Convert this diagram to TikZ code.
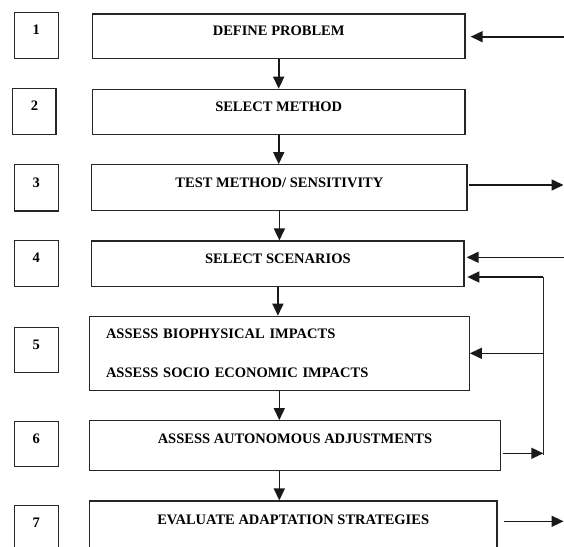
\documentclass[tikz,border=0pt]{standalone}
\usepackage{fontspec}
\setmainfont{Liberation Serif}
\usetikzlibrary{arrows.meta,positioning}

\begin{document}
\begin{tikzpicture}[x=1pt, y=-1pt,
  stepbox/.style={draw=black!85, line width=1.2pt,
                  font=\fontsize{14.5}{17.4}\selectfont\bfseries},
  lift/.style={text height=9.8pt, text depth=11pt},
  numbox/.style={stepbox, lift, minimum width=44pt, minimum height=45.5pt},
  mainbox/.style={stepbox, lift, minimum height=45pt},
  flow/.style={draw=black!90, line width=1.6pt,
               -{Triangle[length=12pt,width=11pt]}},
  wire/.style={draw=black!85, line width=1.2pt}
]
\useasboundingbox (0,0) rectangle (564,546);
\clip (0,0) rectangle (564,546);

\node[numbox] (n1) at (36.3,35.5) {1};
\node[numbox, minimum width=43.3pt, minimum height=46pt] (n2) at (34.4,111.3) {2};
\node[numbox, minimum height=46.7pt] (n3) at (36.3,187.7) {3};
\node[numbox] (n4) at (36.3,263.5) {4};
\node[numbox, minimum height=45pt] (n5) at (36.3,349.8) {5};
\node[numbox, minimum height=45pt] (n6) at (36.3,443.8) {6};
\node[numbox] (n7) at (36.3,528.3) {7};

\node[mainbox, minimum width=372.7pt, minimum height=44.3pt] (define) at (278.7,36.2)
  {DEFINE PROBLEM};
\node[mainbox, minimum width=372.7pt] (method) at (278.7,111.8)
  {SELECT METHOD};
\node[mainbox, minimum width=375.3pt, minimum height=46pt] (test) at (279.4,187.7)
  {TEST METHOD/ SENSITIVITY};
\node[mainbox, minimum width=372.3pt, minimum height=45.3pt] (scen) at (277.9,263.7)
  {SELECT SCENARIOS};
\node[stepbox, minimum width=380pt, minimum height=74pt, text width=346.6pt,
      inner xsep=16.7pt, align=left] (impact) at (279.3,353.3)
  {ASSESS BIOPHYSICAL IMPACTS\\[21pt]ASSESS SOCIO ECONOMIC IMPACTS};
\node[mainbox, minimum width=411.4pt, minimum height=50pt, text depth=13.6pt]
  (adjust) at (295,445.7) {ASSESS AUTONOMOUS ADJUSTMENTS};
\node[mainbox, minimum width=407.7pt, minimum height=50pt, text depth=13.6pt]
  (evaluate) at (293.2,526) {EVALUATE ADAPTATION STRATEGIES};

\draw[flow] (define.south) -- (define.south |- method.north);
\draw[flow] (method.south) -- (method.south |- test.north);
\draw[flow] (test.south) -- (test.south |- scen.north);
\draw[flow] (scen.south) -- (scen.south |- impact.north);
\draw[flow] (impact.south) -- (impact.south |- adjust.north);
\draw[flow] (impact.south |- adjust.south) -- (impact.south |- evaluate.north);

\coordinate (in1) at (564,36.7);
\coordinate (out3) at (563.5,185);
\coordinate (in4) at (564,257.3);
\coordinate (fbtop) at (543.3,277);
\coordinate (fbbot) at (543.3,453.3);
\coordinate (out7) at (563.5,521.3);

\draw[flow, shorten >=5pt] (in1) -- (in1 -| define.east);
\draw[flow, shorten <=1.7pt] (out3 -| test.east) -- (out3);
\draw[flow, shorten >=2pt] (in4) -- (in4 -| scen.east);
\draw[flow, shorten <=2pt] (fbbot -| adjust.east) -- (fbbot);
\draw[wire] ([yshift=-1.4pt]fbbot) -- (fbtop);
\draw[flow, shorten >=2.7pt] (fbtop) -- (fbtop -| scen.east);
\draw[flow] (fbtop |- impact.east) -- (impact.east);
\draw[flow, shorten <=6.3pt] (out7 -| evaluate.east) -- (out7);
\end{tikzpicture}
\end{document}
